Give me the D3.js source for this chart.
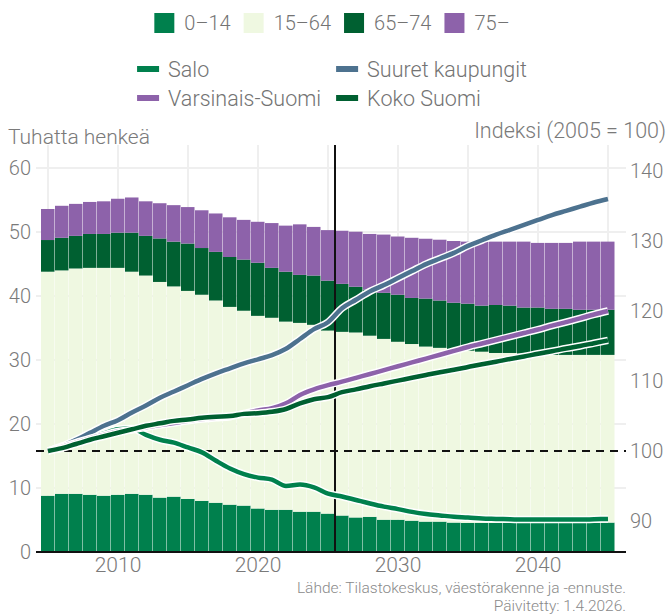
<!DOCTYPE html>
<html>
<head>
<meta charset="utf-8">
<script src="https://cdn.jsdelivr.net/npm/d3@7"></script>
<style>
  body { margin: 0; background: #fff; }
  svg { display: block; font-family: Roboto, Arial, sans-serif; font-weight: 300; }
</style>
</head>
<body>
<div id="container"></div>
<script>
// Salo population by age group (thousands) + population index lines (2005 = 100)

// ---------------------------------------------------------------------------
// Data
// ---------------------------------------------------------------------------
const years = [
  2005, 2006, 2007, 2008, 2009, 2010, 2011, 2012, 2013, 2014, 2015, 2016, 2017, 2018, 2019, 2020, 2021, 2022, 2023, 2024, 2025,
  2026, 2027, 2028, 2029, 2030, 2031, 2032, 2033, 2034, 2035, 2036, 2037, 2038, 2039, 2040, 2041, 2042, 2043, 2044, 2045
];

const ageGroups = ['0–14', '15–64', '65–74', '75–'];

const age0to14 = [
  8.8, 9.1, 9.1, 8.95, 8.8, 8.95, 9.1, 8.95, 8.5, 8.65, 8.3, 8.0, 7.7, 7.4, 7.25, 6.8, 6.6, 6.6, 6.3, 6.3, 6.0,
  5.7, 5.4, 5.5, 5.05, 5.05, 4.9, 4.75, 4.75, 4.6, 4.55, 4.55, 4.55, 4.55, 4.55, 4.55, 4.55, 4.55, 4.55, 4.55, 4.6
];
const age15to64 = [
  35.0, 34.9, 35.2, 35.45, 35.6, 35.45, 34.7, 34.25, 33.7, 32.85, 32.5, 32.2, 31.6, 30.9, 30.45, 30.1, 30.0, 29.4, 29.5, 29.2, 28.6,
  28.7, 28.9, 28.3, 28.25, 27.8, 27.6, 27.35, 27.15, 27.0, 26.9, 26.75, 26.55, 26.55, 26.45, 26.45, 26.25, 26.25, 26.25, 26.25, 26.2
];
const age65to74 = [
  4.95, 5.1, 5.1, 5.3, 5.3, 5.5, 6.1, 6.2, 6.8, 7.0, 7.4, 7.3, 7.6, 7.8, 8.0, 8.3, 7.8, 7.8, 7.5, 7.7, 7.8,
  7.5, 7.15, 7.2, 7.2, 7.35, 7.2, 7.5, 7.4, 7.35, 7.35, 7.2, 7.5, 7.4, 7.2, 7.2, 7.2, 7.2, 7.05, 7.05, 7.05
];
const age75plus = [
  4.85, 5.0, 5.0, 5.0, 5.1, 5.3, 5.5, 5.4, 5.5, 5.7, 5.7, 5.9, 6.0, 6.2, 6.2, 6.4, 7.0, 7.2, 7.9, 7.6, 7.9,
  8.3, 8.6, 8.7, 9.1, 9.1, 9.4, 9.35, 9.5, 9.65, 9.7, 10.0, 9.9, 10.0, 10.3, 10.1, 10.3, 10.3, 10.65, 10.65, 10.65
];

const lineNames = ['Salo', 'Suuret kaupungit', 'Varsinais-Suomi', 'Koko Suomi'];

const indexSalo = [
  100, 100.5, 101.1, 101.8, 102.5, 103.1, 103.2, 102.3, 101.6, 101.2, 100.5, 99.8, 98.6, 97.5, 96.7, 96.2, 95.9, 95.0, 95.2, 94.8, 93.9,
  93.5, 93.0, 92.5, 92.05, 91.7, 91.3, 91.0, 90.8, 90.6, 90.5, 90.35, 90.3, 90.25, 90.2, 90.2, 90.2, 90.2, 90.2, 90.25, 90.3
];
const indexSuuret = [
  100, 100.7, 101.6, 102.6, 103.6, 104.4, 105.5, 106.5, 107.6, 108.5, 109.4, 110.3, 111.1, 111.8, 112.5, 113.1, 113.7, 114.6, 116.0, 117.4, 118.4,
  120.4, 121.6, 122.8, 123.7, 124.7, 125.7, 126.7, 127.5, 128.3, 129.3, 130.1, 130.9, 131.6, 132.3, 133.0, 133.7, 134.3, 134.9, 135.5, 136.0
];
const indexVarsinais = [
  100, 100.6, 101.2, 101.8, 102.3, 102.8, 103.0, 103.4, 103.7, 104.0, 104.3, 104.55, 104.75, 104.9, 105.35, 105.8, 106.1, 106.8, 108.0, 108.8, 109.4,
  109.9, 110.45, 111.0, 111.55, 112.1, 112.65, 113.2, 113.75, 114.3, 114.85, 115.35, 115.85, 116.35, 116.85, 117.35, 117.9, 118.4, 118.95, 119.5, 120.0
];
const indexKoko = [
  100, 100.4, 101.0, 101.6, 102.1, 102.6, 103.1, 103.6, 103.95, 104.3, 104.5, 104.75, 104.9, 105.0, 105.3, 105.4, 105.6, 106.0, 106.8, 107.4, 107.7,
  108.4, 108.8, 109.25, 109.65, 110.05, 110.45, 110.85, 111.25, 111.6, 112.0, 112.4, 112.75, 113.15, 113.5, 113.9, 114.25, 114.65, 115.0, 115.4, 115.8
];

const leftTicks  = [0, 10, 20, 30, 40, 50, 60];
const rightTicks = [90, 100, 110, 120, 130, 140];
const xTickYears = [2010, 2020, 2030, 2040];
const gridYears  = [2005, 2010, 2015, 2020, 2025, 2030, 2035, 2040, 2045];
const firstForecastYear = 2026;

// ---------------------------------------------------------------------------
// Setup
// ---------------------------------------------------------------------------
const W = 668, H = 616;
const plotLeft = 36, plotRight = 626, plotTop = 145, plotBottom = 552;

const barColors  = ['#00804d', '#eff8e1', '#006031', '#8d62aa'];
const lineColors = ['#00804d', '#4d728f', '#8d62aa', '#006031'];
const textColor  = '#7a7a7a';

const svg = d3.select('#container').append('svg')
  .attr('width', W)
  .attr('height', H);

const x = d3.scaleBand().domain(years).range([41, 615]).padding(0);
const xc = (yr) => x(yr) + x.bandwidth() / 2;
const yLeft  = d3.scaleLinear().domain([0, 63.6]).range([plotBottom, plotTop]);
const yRight = d3.scaleLinear().domain([85.57, 143.71]).range([plotBottom, plotTop]);

// ── Grid ─────────────────────────────────────────────────────────────────
const grid = svg.append('g').attr('stroke', '#efefef').attr('stroke-width', 2);
grid.selectAll('.hg').data(leftTicks.filter(d => d > 0)).join('line')
  .attr('x1', plotLeft).attr('x2', plotRight)
  .attr('y1', d => yLeft(d)).attr('y2', d => yLeft(d));
grid.selectAll('.vg').data(gridYears).join('line')
  .attr('x1', d => xc(d)).attr('x2', d => xc(d))
  .attr('y1', plotTop).attr('y2', plotBottom);

// ── Stacked bars ─────────────────────────────────────────────────────────
const rows = years.map((yr, i) => ({
  year: yr,
  [ageGroups[0]]: age0to14[i],
  [ageGroups[1]]: age15to64[i],
  [ageGroups[2]]: age65to74[i],
  [ageGroups[3]]: age75plus[i],
}));
const stacked = d3.stack().keys(ageGroups)(rows);

svg.append('g').selectAll('g').data(stacked).join('g')
  .attr('fill', (d, i) => barColors[i])
  .selectAll('rect').data(d => d).join('rect')
  .attr('x', d => x(d.data.year))
  .attr('width', x.bandwidth() - 0.5)
  .attr('y', d => yLeft(d[1]))
  .attr('height', d => yLeft(d[0]) - yLeft(d[1]));

// ── Reference lines ──────────────────────────────────────────────────────
svg.append('line')
  .attr('x1', plotLeft).attr('x2', plotRight)
  .attr('y1', yRight(100)).attr('y2', yRight(100))
  .attr('stroke', '#111').attr('stroke-width', 2)
  .attr('stroke-dasharray', '8,6');

svg.append('line')
  .attr('x1', x(firstForecastYear)).attr('x2', x(firstForecastYear))
  .attr('y1', plotTop).attr('y2', plotBottom)
  .attr('stroke', '#111').attr('stroke-width', 2);

// ── Index lines (white halo under each) ──────────────────────────────────
const series = [indexSalo, indexSuuret, indexVarsinais, indexKoko];
const lineGen = d3.line()
  .x((d, i) => xc(years[i]))
  .y(d => yRight(d))
  .curve(d3.curveMonotoneX);

series.forEach((vals, i) => {
  const g = svg.append('g');
  g.append('path')
    .attr('d', lineGen(vals))
    .attr('fill', 'none')
    .attr('stroke', '#fff')
    .attr('stroke-width', 7.5)
    .attr('stroke-linejoin', 'round');
  g.append('path')
    .attr('d', lineGen(vals))
    .attr('fill', 'none')
    .attr('stroke', lineColors[i])
    .attr('stroke-width', 4.5)
    .attr('stroke-linejoin', 'round');
});

// ── Axis baseline ────────────────────────────────────────────────────────
svg.append('line')
  .attr('x1', plotLeft).attr('x2', plotRight)
  .attr('y1', plotBottom).attr('y2', plotBottom)
  .attr('stroke', '#111').attr('stroke-width', 2);

// ── Tick labels ──────────────────────────────────────────────────────────
svg.append('g').selectAll('text').data(leftTicks).join('text')
  .attr('x', 31).attr('y', d => yLeft(d))
  .attr('dy', '0.36em')
  .attr('text-anchor', 'end')
  .attr('font-size', 20).attr('fill', textColor)
  .text(d => d);

svg.append('g').selectAll('text').data(rightTicks).join('text')
  .attr('x', 630).attr('y', d => yRight(d))
  .attr('dy', '0.36em')
  .attr('font-size', 20).attr('fill', textColor)
  .text(d => d);

svg.append('g').selectAll('text').data(xTickYears).join('text')
  .attr('x', d => xc(d)).attr('y', 572)
  .attr('text-anchor', 'middle')
  .attr('font-size', 21).attr('fill', textColor)
  .text(d => d);

// ── Axis titles ──────────────────────────────────────────────────────────
svg.append('text')
  .attr('x', 8).attr('y', 144)
  .attr('font-size', 21).attr('fill', textColor)
  .text('Tuhatta henkeä');

svg.append('text')
  .attr('x', 666).attr('y', 138)
  .attr('text-anchor', 'end')
  .attr('font-size', 21.5).attr('fill', textColor)
  .text('Indeksi (2005 = 100)');

// ── Source ───────────────────────────────────────────────────────────────
const src = svg.append('g')
  .attr('text-anchor', 'end')
  .attr('font-size', 15.5).attr('fill', '#8a8a8a');
src.append('text').attr('x', 626).attr('y', 593).text('Lähde: Tilastokeskus, väestörakenne ja -ennuste.');
src.append('text').attr('x', 626).attr('y', 611).text('Päivitetty: 1.4.2026.');

// ── Legend: age groups ───────────────────────────────────────────────────
const legendCenter = 332;
const barLegend = svg.append('g');
let cursor = 0;
ageGroups.forEach((name, i) => {
  const item = barLegend.append('g').attr('transform', `translate(${cursor},0)`);
  item.append('rect').attr('x', 0).attr('y', 13).attr('width', 20).attr('height', 20)
    .attr('fill', barColors[i]);
  const t = item.append('text').attr('x', 30).attr('y', 23).attr('dy', '0.36em')
    .attr('font-size', 20).attr('fill', '#737373').text(name);
  cursor += 30 + t.node().getComputedTextLength() + 13;
});
barLegend.attr('transform', `translate(${legendCenter - (cursor - 13) / 2},0)`);

// ── Legend: lines (two columns) ──────────────────────────────────────────
const lineLegend = svg.append('g');
const colTexts = [];
lineNames.forEach((name, i) => {
  const col = i % 2, row = Math.floor(i / 2);
  const item = lineLegend.append('g');
  const cy = 69 + row * 29;
  item.append('rect').attr('x', 0).attr('y', cy - 3).attr('width', 22).attr('height', 6)
    .attr('fill', lineColors[i]);
  const t = item.append('text').attr('x', 31).attr('y', cy).attr('dy', '0.36em')
    .attr('font-size', 21.5).attr('fill', '#737373').text(name);
  colTexts.push({ col, w: t.node().getComputedTextLength(), item });
});
const col0W = d3.max(colTexts.filter(d => d.col === 0), d => d.w);
const col1W = d3.max(colTexts.filter(d => d.col === 1), d => d.w);
const col1X = 31 + col0W + 15;
colTexts.filter(d => d.col === 1).forEach(d => d.item.attr('transform', `translate(${col1X},0)`));
const totalW = col1X + 31 + col1W;
lineLegend.attr('transform', `translate(${legendCenter - totalW / 2},0)`);
</script>
</body>
</html>
